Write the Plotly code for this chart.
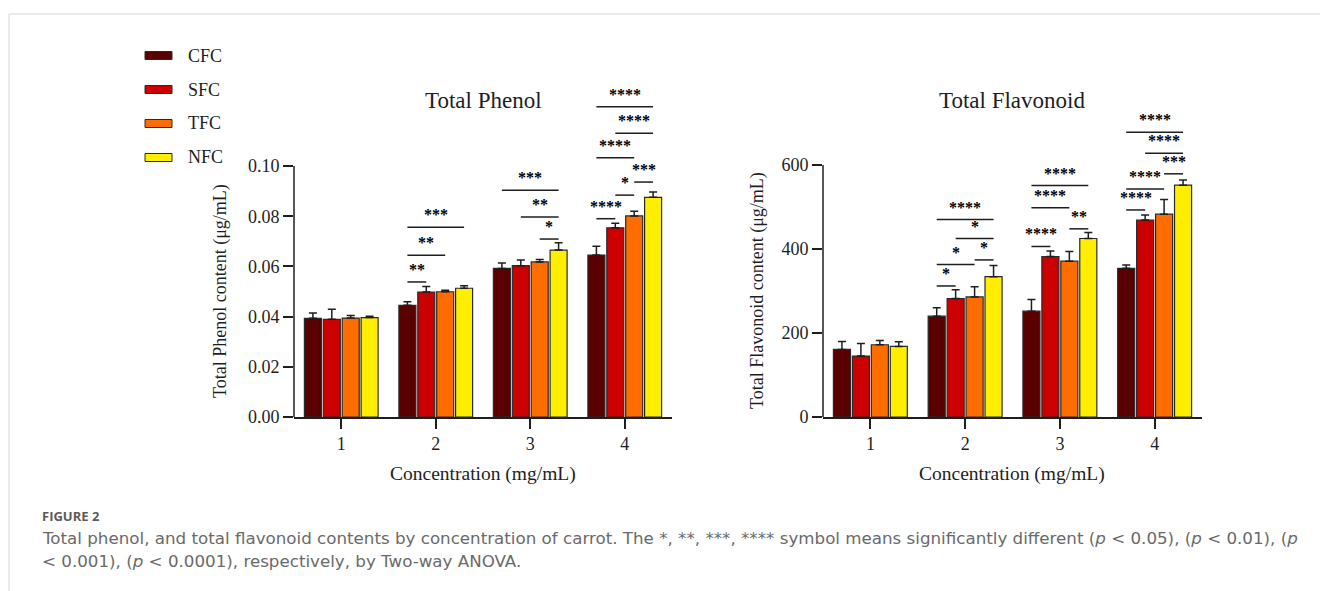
import plotly.graph_objects as go

W = 1320
REF_H = 591   # coordinate frame of the reference picture
FIG_H = 601   # rendered height (capture is resized to 591)

# ---------------- data ----------------
categories = [1, 2, 3, 4]
tick_labels = ["1", "2", "3", "4"]
series = ["CFC", "SFC", "TFC", "NFC"]
colors = ["#5a0000", "#cc0000", "#ff6d00", "#ffee00"]

phenol_cfc = [0.0393, 0.0445, 0.0592, 0.0645]
phenol_sfc = [0.0389, 0.0498, 0.0603, 0.0754]
phenol_tfc = [0.0394, 0.0499, 0.0618, 0.0801]
phenol_nfc = [0.0396, 0.0513, 0.0665, 0.0875]
phenol_err_cfc = [0.0021, 0.0014, 0.0022, 0.0035]
phenol_err_sfc = [0.0040, 0.0022, 0.0022, 0.0018]
phenol_err_tfc = [0.0010, 0.0006, 0.0009, 0.0019]
phenol_err_nfc = [0.0005, 0.0010, 0.0029, 0.0021]

flav_cfc = [161, 240, 252, 354]
flav_sfc = [145, 282, 382, 469]
flav_tfc = [172, 286, 371, 483]
flav_nfc = [168, 334, 425, 552]
flav_err_cfc = [19, 20, 28, 8]
flav_err_sfc = [30, 21, 13, 12]
flav_err_tfc = [10, 24, 23, 35]
flav_err_nfc = [11, 27, 14, 12]

phenol_ticks = [0.00, 0.02, 0.04, 0.06, 0.08, 0.10]
phenol_ticktext = ["0.00", "0.02", "0.04", "0.06", "0.08", "0.10"]
flav_ticks = [0, 200, 400, 600]
flav_ticktext = ["0", "200", "400", "600"]

# significance: (category, series a, series b, bracket level, label)
phenol_sig = [
    (2, 0, 1, 0.0538, "**"), (2, 0, 2, 0.0644, "**"), (2, 0, 3, 0.0756, "***"),
    (3, 2, 3, 0.0709, "*"), (3, 1, 3, 0.0797, "**"), (3, 0, 3, 0.0903, "***"),
    (4, 0, 1, 0.0790, "****"), (4, 1, 2, 0.0884, "*"), (4, 2, 3, 0.0936, "***"),
    (4, 0, 2, 0.1033, "****"), (4, 1, 3, 0.1130, "****"), (4, 0, 3, 0.1236, "****"),
]
flav_sig = [
    (2, 0, 1, 312, "*"), (2, 0, 2, 363, "*"), (2, 2, 3, 374, "*"),
    (2, 1, 3, 425, "*"), (2, 0, 3, 470, "****"),
    (3, 0, 1, 406, "****"), (3, 2, 3, 448, "**"), (3, 0, 2, 498, "****"),
    (3, 0, 3, 551, "****"),
    (4, 0, 1, 493, "****"), (4, 0, 2, 543, "****"), (4, 2, 3, 579, "***"),
    (4, 1, 3, 628, "****"), (4, 0, 3, 678, "****"),
]

phenol = [phenol_cfc, phenol_sfc, phenol_tfc, phenol_nfc]
phenol_err = [phenol_err_cfc, phenol_err_sfc, phenol_err_tfc, phenol_err_nfc]
flav = [flav_cfc, flav_sfc, flav_tfc, flav_nfc]
flav_err = [flav_err_cfc, flav_err_sfc, flav_err_tfc, flav_err_nfc]

# ---------------- layout helpers ----------------
SERIF = "Liberation Serif, Times New Roman, serif"
SANS = "DejaVu Sans, Open Sans, sans-serif"
INK = "#1e1e1e"
BARGAP = 0.2
NB = len(series)


def px(x):
    return x / W


def py(y):
    return 1 - y / REF_H


def bar_offset(i):
    slot = (1 - BARGAP) / NB
    return -(1 - BARGAP) / 2 + slot * (i + 0.5)


fig = go.Figure()

for i, name in enumerate(series):
    for vals, errs, xa, ya in [(phenol[i], phenol_err[i], "x", "y"),
                               (flav[i], flav_err[i], "x2", "y2")]:
        fig.add_trace(go.Bar(
            x=categories, y=vals, name=name, xaxis=xa, yaxis=ya,
            offsetgroup=str(i), showlegend=False,
            marker=dict(color=colors[i], line=dict(color="#2a2a2a", width=1.2)),
            error_y=dict(type="data", array=errs, arrayminus=[0] * len(errs),
                         symmetric=False, color=INK, thickness=1.5, width=4),
        ))

# plot geometry (reference pixels)
Y0_PX, TOP_PX = 417, 80
left_x = (294, 672)
right_x = (823, 1202)
ph_top = (Y0_PX - TOP_PX) / (Y0_PX - 166) * 0.10
fl_top = (Y0_PX - TOP_PX) / (Y0_PX - 165) * 600
ydom = [py(Y0_PX), py(TOP_PX)]

axis_common = dict(showgrid=False, zeroline=False, ticks="outside", ticklen=10,
                   tickwidth=1.5, tickcolor=INK,
                   tickfont=dict(family=SERIF, size=18, color=INK))

fig.update_layout(
    width=W, height=FIG_H, autosize=False,
    margin=dict(l=0, r=0, t=0, b=0),
    paper_bgcolor="white", plot_bgcolor="white",
    barmode="group", bargap=BARGAP, bargroupgap=0.1,
    xaxis=dict(domain=[px(left_x[0]), px(left_x[1])], anchor="y", range=[0.5, 4.5],
               tickvals=categories, ticktext=tick_labels, showline=True,
               linecolor=INK, linewidth=1.5, **axis_common),
    yaxis=dict(domain=ydom, anchor="x", range=[0, ph_top], tickvals=phenol_ticks,
               ticktext=phenol_ticktext, showline=False, **axis_common),
    xaxis2=dict(domain=[px(right_x[0]), px(right_x[1])], anchor="y2", range=[0.5, 4.5],
                tickvals=categories, ticktext=tick_labels, showline=True,
                linecolor=INK, linewidth=1.5, **axis_common),
    yaxis2=dict(domain=ydom, anchor="x2", range=[0, fl_top], tickvals=flav_ticks,
                ticktext=flav_ticktext, showline=False, **axis_common),
)

shapes = []
annotations = []

# y axis lines only up to the last tick
shapes.append(dict(type="line", xref="paper", yref="y", x0=px(left_x[0]), x1=px(left_x[0]),
                   y0=0, y1=phenol_ticks[-1], line=dict(color=INK, width=1.5)))
shapes.append(dict(type="line", xref="paper", yref="y2", x0=px(right_x[0]), x1=px(right_x[0]),
                   y0=0, y1=flav_ticks[-1], line=dict(color=INK, width=1.5)))

# significance brackets
for sig, xr, yr in [(phenol_sig, "x", "y"), (flav_sig, "x2", "y2")]:
    for cat, a, b, lvl, lab in sig:
        xa = cat + bar_offset(a)
        xb = cat + bar_offset(b)
        shapes.append(dict(type="line", xref=xr, yref=yr, x0=xa, x1=xb, y0=lvl, y1=lvl,
                           line=dict(color=INK, width=1.5)))
        annotations.append(dict(x=(xa + xb) / 2, y=lvl, xref=xr, yref=yr, text="<b>" + lab + "</b>",
                                showarrow=False, xanchor="center", yanchor="bottom",
                                yshift=2, font=dict(family=SERIF, size=16, color="#000000")))

# titles
for txt, x, y, size in [("Total Phenol", 483, 100, 23), ("Total Flavonoid", 1012, 100, 23),
                        ("Concentration (mg/mL)", 483, 474, 19.5),
                        ("Concentration (mg/mL)", 1012, 474, 19.5)]:
    annotations.append(dict(x=px(x), y=py(y), xref="paper", yref="paper", text=txt,
                            showarrow=False, xanchor="center", yanchor="middle",
                            font=dict(family=SERIF, size=size, color=INK)))
for txt, x in [("Total Phenol content (μg/mL)", 220), ("Total Flavonoid content (μg/mL)", 757)]:
    annotations.append(dict(x=px(x), y=py(291), xref="paper", yref="paper", text=txt,
                            textangle=-90, showarrow=False, xanchor="center", yanchor="middle",
                            font=dict(family=SERIF, size=18, color=INK)))

# legend
for i, name in enumerate(series):
    cy = 55.5 + 34 * i
    shapes.append(dict(type="rect", xref="paper", yref="paper",
                       x0=px(145), x1=px(172), y0=py(cy + 4), y1=py(cy - 4),
                       fillcolor=colors[i], line=dict(color="#2a2a2a", width=1)))
    annotations.append(dict(x=px(186), y=py(cy), xref="paper", yref="paper", text=name,
                            showarrow=False, xanchor="left", yanchor="middle",
                            font=dict(family=SERIF, size=18, color=INK)))

# frame lines
shapes.append(dict(type="line", xref="paper", yref="paper", x0=px(9), x1=1, y0=py(14), y1=py(14),
                   line=dict(color="#d6d6d6", width=1)))
shapes.append(dict(type="line", xref="paper", yref="paper", x0=px(9), x1=px(9), y0=py(14), y1=0,
                   line=dict(color="#d6d6d6", width=1)))

# caption
annotations.append(dict(x=px(40), y=py(516), xref="paper", yref="paper", text="<b>FIGURE 2</b>",
                        showarrow=False, xanchor="left", yanchor="middle",
                        font=dict(family="Open Sans, sans-serif", size=13, color="#5a5a5a")))
cap1 = ("Total phenol, and total flavonoid contents by concentration of carrot. The *, **, ***, **** "
        "symbol means significantly different (<i>p</i> &lt; 0.05), (<i>p</i> &lt; 0.01), (<i>p</i>")
cap2 = "&lt; 0.001), (<i>p</i> &lt; 0.0001), respectively, by Two-way ANOVA."
for txt, y in [(cap1, 538), (cap2, 561)]:
    annotations.append(dict(x=px(40), y=py(y), xref="paper", yref="paper", text=txt,
                            showarrow=False, xanchor="left", yanchor="middle",
                            font=dict(family=SANS, size=16.7, color="#6a6a6a")))

fig.update_layout(shapes=shapes, annotations=annotations)
fig.write_html("out.html")
